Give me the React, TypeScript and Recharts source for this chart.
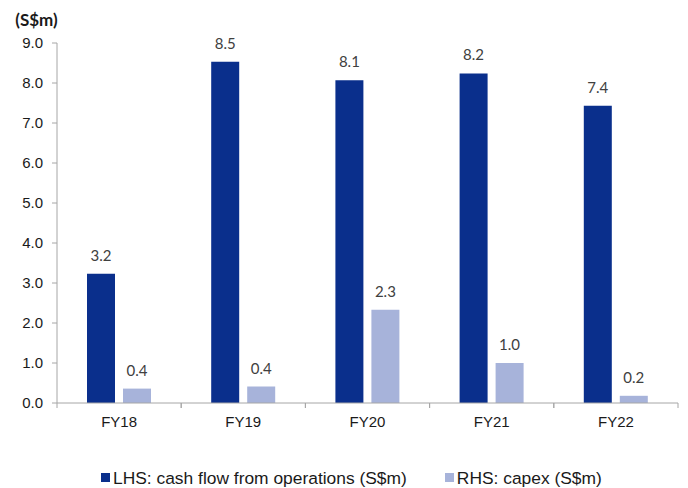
import React from 'react';
import { BarChart, Bar, XAxis, YAxis, Legend, LabelList } from 'recharts';

// Fiscal years and series values (S$m)
const years = ['FY18', 'FY19', 'FY20', 'FY21', 'FY22'];
const cashFlowOps = [3.23, 8.53, 8.07, 8.24, 7.43];
const capex = [0.36, 0.41, 2.33, 1.0, 0.18];
const yTicks = [0, 1, 2, 3, 4, 5, 6, 7, 8, 9];

const seriesNames = {
  ops: 'LHS: cash flow from operations (S$m)',
  capex: 'RHS: capex (S$m)',
};

const DARK = '#0a2f8c';
const LIGHT = '#a7b3da';
const AXIS = '#a6a6a6';

const data = years.map((year, i) => ({
  year,
  ops: cashFlowOps[i],
  capex: capex[i],
}));

const fmt = (v: number) => Number(v).toFixed(1);

// Category label under the axis, with tick marks on the band edges
const CategoryTick = (props: any) => {
  const { x, y, payload } = props;
  const half = payload && payload.offset ? payload.offset : 62;
  return (
    <g>
      <line x1={x - half} x2={x - half} y1={y} y2={y + 5} stroke={AXIS} strokeWidth={1} />
      <line x1={x + half} x2={x + half} y1={y} y2={y + 5} stroke={AXIS} strokeWidth={1} />
      <text
        x={x}
        y={y + 24}
        textAnchor="middle"
        fill="#1a1a1a"
        fontFamily="'Liberation Sans', Arial, sans-serif"
        fontSize={15}
      >
        {payload.value}
      </text>
    </g>
  );
};

const LegendContent = () => {
  const items = [
    { label: seriesNames.ops, color: DARK },
    { label: seriesNames.capex, color: LIGHT },
  ];
  return (
    <div
      style={{
        height: 40,
        boxSizing: 'border-box',
        paddingTop: 19,
        paddingLeft: 101,
        display: 'flex',
        alignItems: 'center',
        fontFamily: "'Liberation Sans', Arial, sans-serif",
        fontSize: 17.4,
        color: '#1a1a1a',
      }}
    >
      {items.map((it, i) => (
        <div
          key={it.label}
          style={{ display: 'flex', alignItems: 'center', marginRight: i === 0 ? 38 : 0, height: 18 }}
        >
          <span style={{ width: 9, height: 9, background: it.color, display: 'inline-block', marginRight: 3 }} />
          <span style={{ whiteSpace: 'nowrap', lineHeight: '18px' }}>{it.label}</span>
        </div>
      ))}
    </div>
  );
};

export default function App() {
  return (
    <div style={{ position: 'absolute', left: 0, top: 0, background: '#fff' }}>
      <BarChart
        width={688}
        height={488}
        data={data}
        margin={{ top: 43, right: 10, left: 0, bottom: 0 }}
        barCategoryGap={30}
        barGap={8}
      >
        <XAxis
          dataKey="year"
          height={45}
          stroke={AXIS}
          tickLine={false}
          tickSize={0}
          tickMargin={0}
          tick={<CategoryTick />}
          interval={0}
        />
        <YAxis
          width={57}
          domain={[0, 9]}
          ticks={yTicks}
          interval={0}
          tickFormatter={fmt}
          stroke={AXIS}
          tickSize={5}
          tickMargin={9}
          tick={{ fill: '#1a1a1a', fontSize: 15, fontFamily: "'Liberation Sans', Arial, sans-serif" }}
          label={{
            value: '(S$m)',
            position: 'top',
            offset: 17,
            dx: 8,
            fill: '#1a1a1a',
            fontSize: 17,
            fontWeight: 700,
            fontFamily: 'Lato, sans-serif',
          }}
        />
        <Legend verticalAlign="bottom" content={<LegendContent />} />
        <Bar dataKey="ops" name={seriesNames.ops} fill={DARK} isAnimationActive={false}>
          <LabelList
            dataKey="ops"
            position="top"
            offset={13}
            formatter={fmt}
            fill="#404040"
            fontSize={15}
            fontFamily="Lato, sans-serif"
          />
        </Bar>
        <Bar dataKey="capex" name={seriesNames.capex} fill={LIGHT} isAnimationActive={false}>
          <LabelList
            dataKey="capex"
            position="top"
            offset={13}
            formatter={fmt}
            fill="#404040"
            fontSize={15}
            fontFamily="Lato, sans-serif"
          />
        </Bar>
      </BarChart>
    </div>
  );
}
